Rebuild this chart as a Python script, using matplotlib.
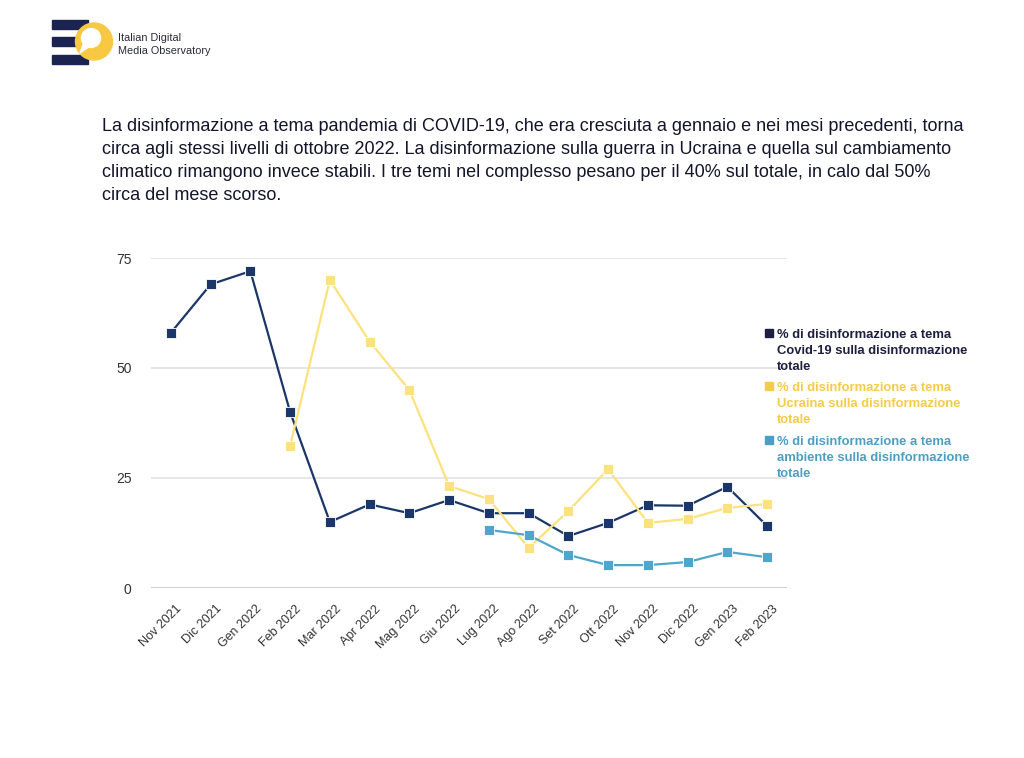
import matplotlib
matplotlib.use("Agg")
import matplotlib.pyplot as plt
import matplotlib.transforms as mtransforms
import numpy as np
from matplotlib.patches import Rectangle, Ellipse, Polygon

plt.rcParams['font.family'] = ['Liberation Sans', 'DejaVu Sans']

months = ["Nov 2021", "Dic 2021", "Gen 2022", "Feb 2022", "Mar 2022", "Apr 2022",
          "Mag 2022", "Giu 2022", "Lug 2022", "Ago 2022", "Set 2022", "Ott 2022",
          "Nov 2022", "Dic 2022", "Gen 2023", "Feb 2023"]
covid = [58, 69, 72, 40, 15, 19, 17, 20, 17, 17, 11.8, 14.8, 18.8, 18.7, 23, 14.1]
ucraina = [None, None, None, 32.3, 70, 56, 45, 23.2, 20.2, 9.1, 17.5, 27, 14.8, 15.7, 18.2, 19.1]
ambiente = [None] * 8 + [13.2, 12, 7.5, 5.2, 5.2, 5.9, 8.2, 7]
yticks = [0, 25, 50, 75]

labels = ["% di disinformazione a tema\nCovid-19 sulla disinformazione\ntotale",
          "% di disinformazione a tema\nUcraina sulla disinformazione\ntotale",
          "% di disinformazione a tema\nambiente sulla disinformazione\ntotale"]
line_colors = ["#1b3668", "#fbe27c", "#4ea6cb"]
legend_colors = ["#1c1f3f", "#f6cb45", "#4c9ec4"]

title = ("La disinformazione a tema pandemia di COVID-19, che era cresciuta a gennaio e nei mesi precedenti, torna\n"
         "circa agli stessi livelli di ottobre 2022. La disinformazione sulla guerra in Ucraina e quella sul cambiamento\n"
         "climatico rimangono invece stabili. I tre temi nel complesso pesano per il 40% sul totale, in calo dal 50%\n"
         "circa del mese scorso.")

W, H = 1024, 758
fig = plt.figure(figsize=(W / 100, H / 100), dpi=100)
fig.patch.set_facecolor("white")

ax = fig.add_axes([151 / W, 1 - 588 / H, (787 - 151) / W, (588 - 258) / H])
x = np.arange(len(months))

def to_arr(v):
    return np.array([np.nan if a is None else a for a in v], dtype=float)

for vals, c in zip([covid, ucraina, ambiente], line_colors):
    ax.plot(x, to_arr(vals), color=c, lw=1.6, marker="s", markersize=6.5,
            markeredgecolor="white", markeredgewidth=0.6, zorder=3)

ax.set_xlim(-0.5, len(months) - 0.5)
ax.set_ylim(0, 75)
ax.set_yticks(yticks)
ax.set_yticklabels([str(t) for t in yticks], fontsize=10, color="#333333")
ax.set_xticks(x)
ax.set_xticklabels([])
offset = mtransforms.ScaledTranslation(5 / 100, -15 / 100, fig.dpi_scale_trans)
for xi, m in zip(x, months):
    ax.text(xi, 0, m, transform=ax.get_xaxis_transform() + offset,
            rotation=45, ha="right", va="top", rotation_mode="anchor",
            fontsize=9.0, color="#333333")
ax.tick_params(axis="both", length=0)
ax.tick_params(axis="y", pad=14)
for s in ax.spines.values():
    s.set_visible(False)
ax.set_axisbelow(True)
ax.grid(axis="y", color="#e2e2e2", lw=1.2)
ax.axhline(0, color="#d0d0d0", lw=1.4, zorder=1)

# legend
ys = [333, 386, 440]
for yy, lab, c in zip(ys, labels, legend_colors):
    fig.patches.append(Rectangle((765 / W, 1 - (yy + 4) / H), 8 / W, 8 / H,
                                 transform=fig.transFigure, color=c))
    fig.text(777 / W, 1 - (yy - 4) / H, lab, fontsize=9.4, fontweight="bold",
             color=c, va="top", ha="left", linespacing=1.42)

# title
fig.text(102 / W, 1 - 118 / H, title, fontsize=12.95, color="#14142a",
         va="top", ha="left", linespacing=1.47)

# logo
for yb in [20, 37, 55]:
    fig.patches.append(Rectangle((52 / W, 1 - (yb + 8.5) / H), 36 / W, 8.5 / H,
                                 transform=fig.transFigure, color="#1b2450"))
fig.patches.append(Ellipse((94 / W, 1 - 41.5 / H), 37 / W, 37 / H, transform=fig.transFigure,
                           color="#f7c943", zorder=2))
fig.patches.append(Ellipse((91 / W, 1 - 38 / H), 19 / W, 19 / H, transform=fig.transFigure,
                           color="white", zorder=3))
fig.patches.append(Polygon([(84 / W, 1 - 42 / H), (90 / W, 1 - 46 / H), (80 / W, 1 - 53 / H)],
                           closed=True, transform=fig.transFigure, color="white", zorder=3))
fig.text(118 / W, 1 - 44.5 / H, "Italian Digital\nMedia Observatory", fontsize=7.8,
         color="#2a2a3a", va="center", ha="left", linespacing=1.45)

fig.savefig("out.png", dpi=100)
